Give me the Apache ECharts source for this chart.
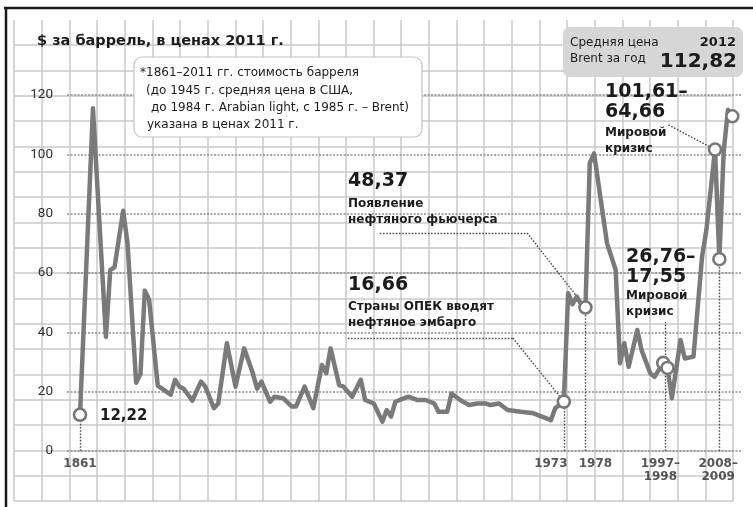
<!DOCTYPE html>
<html><head><meta charset="utf-8">
<script src="https://cdn.jsdelivr.net/npm/echarts@6/dist/echarts.min.js"></script>
<style>html,body{margin:0;padding:0;background:#fff}#c{width:753px;height:507px}</style>
</head><body><div id="c"></div>
<script>
// ---- data ----
const years = [1861,1864,1867,1868,1869,1871,1872,1874,1875,1876,1877,1879,1880,1882,1883,1884,1885,1887,1889,1890,1892,1893,1895,1897,1899,1901,1902,1903,1905,1906,1908,1910,1911,1913,1915,1917,1918,1919,1921,1922,1924,1926,1927,1929,1931,1932,1933,1934,1935,1937,1939,1941,1943,1944,1946,1947,1949,1951,1953,1955,1956,1958,1960,1963,1966,1970,1971,1973,1974,1975,1976,1977,1978,1979,1980,1983,1985,1986,1987,1988,1990,1991,1993,1994,1996,1997,1998,2000,2001,2003,2005,2006,2008,2009,2010,2011,2012];
const prices = [12.22,115.5,38.5,61,62,81,70,23,26,54,51,22,21,19,24,21.7,21,17,23.4,21.7,14.4,16,36.3,21.7,34.6,26.2,21,23.4,16.6,18.3,17.8,15,15,21.7,14.4,29,26.2,34.6,22.2,21.7,18.3,24,17.2,16,9.9,13.8,11.6,16.6,17.2,18.3,17.2,17.2,16,13.2,13.2,19.4,17.2,15.5,16,16,15.5,16,13.8,13.2,12.7,10.4,14.4,16.66,53.2,49.5,52,49.5,48.37,97,100.3,70,61,29.6,36.3,28.4,40.8,34,26.2,25,29.7,28,17.8,37.4,31.2,31.8,65.5,74.5,101.61,64.66,101,115,112.82];
const markerYears = [1861,1973,1978,1996,1997,2008,2009,2012];
const markerValues = [12.22,16.66,48.37,29.7,28,101.61,64.66,112.82];
const tickYears = [1861,1973,1978,1996.5,2008.5];
const tickLabels = ['1861','1973','1978','1997–\n1998','2008–\n2009'];
const yMin = 0, yMax = 120, yStep = 20;
const titleText = '$ за баррель, в ценах 2011 г.';
const noteLines = ['*1861–2011 гг. стоимость барреля','(до 1945 г. средняя цена в США,','до 1984 г. Arabian light, с 1985 г. – Brent)','указана в ценах 2011 г.'];
const boxLines = ['Средняя цена','Brent за год'];
const boxYear = '2012';
const boxValue = '112,82';
const notes = [
  {big:['12,22'], small:[]},
  {big:['16,66'], small:['Страны ОПЕК вводят','нефтяное эмбарго']},
  {big:['48,37'], small:['Появление','нефтяного фьючерса']},
  {big:['26,76–','17,55'], small:['Мировой','кризис']},
  {big:['101,61–','64,66'], small:['Мировой','кризис']}
];

// ---- build ----
const chart = echarts.init(document.getElementById('c'), null, {renderer:'canvas'});
const lineData = years.map((y,i)=>[y,prices[i]]);
const markerData = markerYears.map((y,i)=>[y,markerValues[i]]);
const tickOffsets = [0,-13,10,-5,1];
const tickData = tickYears.map((y,i)=>({value:[y,0], label:{offset:[tickOffsets[i],0]}}));
const dotted = {type:[1.6,1.6], color:'#4a4a4a', width:1.4};
const leaderSegs = [
  [[1861,0],[1861,12.22]],
  [[1973,0],[1973,16.66]],
  [[1978,0],[1978,48.37]],
  [[1996.5,0],[1996.5,43.5]],
  [[2009,0],[2009,64.66]],
  [[2012,112.82],[2012,125.5]],
  [[1923,38.1],[1961.2,38.1]],[[1961.2,38.1],[1973,16.66]],
  [[1930.4,73.5],[1964.5,73.5]],[[1964.5,73.5],[1978,48.37]],
  [[1997.2,109.9],[2008,101.61]]
];
const FB = '"DejaVu Sans", sans-serif';
function txt(t,x,y,font,align){return {type:'text',x:x,y:y,z:30,silent:true,style:{text:t,font:font,fill:'#1b1b1b',textAlign:align||'left',textVerticalAlign:'middle',align:align||'left',verticalAlign:'middle'}};}
const g = [];
g.push({type:'rect',z:20,silent:true,shape:{x:134,y:57,width:288,height:80,r:8},style:{fill:'#fff',stroke:'#c4c4c4',lineWidth:1.2}});
const noteX=[140,146,151,147], noteY=[73,90.5,108,125];
noteLines.forEach((t,i)=>g.push(txt(t,noteX[i],noteY[i],'12px '+FB)));
g.push(txt(titleText,37,41,'bold 14.5px '+FB));
g.push({type:'rect',z:20,silent:true,shape:{x:563,y:27,width:180,height:50,r:7},style:{fill:'#d6d6d6'}});
g.push(txt(boxLines[0],570,43,'12px '+FB));
g.push(txt(boxLines[1],570,58.5,'12px '+FB));
g.push(txt(boxYear,736,43,'bold 13px '+FB,'right'));
g.push(txt(boxValue,737,62,'bold 20px '+FB,'right'));
const notePos = [[100,416,0,0],[348,285,0,22],[348,181.5,0,22.5],[626,257.5,19.5,38.5],[605,92.5,20,40.5]];
notes.forEach((n,i)=>{
  const p = notePos[i];
  n.big.forEach((t,j)=>g.push(txt(t,p[0],p[1]+j*p[2], (i===0?'bold 15px ':'bold 19px ')+FB)));
  n.small.forEach((t,j)=>g.push(txt(t,p[0],p[1]+p[3]+j*15.5,'bold 12px '+FB)));
});
g.push({type:'line',z:40,silent:true,shape:{x1:4,y1:8,x2:753,y2:8},style:{stroke:'#1a1a1a',lineWidth:2.5}});
g.push({type:'line',z:40,silent:true,shape:{x1:6,y1:7,x2:6,y2:507},style:{stroke:'#1a1a1a',lineWidth:2.5}});

const option = {
  animation:false,
  backgroundColor:'#fff',
  grid:[
    {left:14, top:19.9, width:719.16, height:481.3},
    {left:67.04, top:95, width:673.92, height:356}
  ],
  xAxis:[
    {gridIndex:0,type:'value',min:0,max:26,interval:1,axisLine:{show:false},axisTick:{show:false},axisLabel:{show:false},
     splitLine:{show:true,showMinLine:true,showMaxLine:true,lineStyle:{color:'#c8c8c8',width:1.5}},z:0},
    {gridIndex:1,type:'value',min:1858,max:2014,show:false,splitLine:{show:false}}
  ],
  yAxis:[
    {gridIndex:0,type:'value',min:0,max:19,interval:1,axisLine:{show:false},axisTick:{show:false},axisLabel:{show:false},
     splitLine:{show:true,showMinLine:true,showMaxLine:false,lineStyle:{color:'#c8c8c8',width:1.5}},z:0},
    {gridIndex:1,type:'value',min:yMin,max:yMax,interval:yStep,axisLine:{show:false},axisTick:{show:false},
     axisLabel:{margin:14,color:'#2e2e2e',fontSize:13.5,fontFamily:'Roboto, sans-serif'},
     splitLine:{show:true,lineStyle:{type:[2,1.5],color:'#8c8c8c',width:1.5}},z:1}
  ],
  series:[
    {type:'line',name:'price',xAxisIndex:1,yAxisIndex:1,data:lineData,showSymbol:false,symbol:'none',z:5,
     lineStyle:{color:'#7a7a7a',width:4.5,join:'round',cap:'round'},silent:true,
     markLine:{silent:true,symbol:['none','none'],label:{show:false},lineStyle:dotted,z:4,
       data:leaderSegs.map(s=>[{coord:s[0]},{coord:s[1]}])}},
    {type:'scatter',name:'markers',xAxisIndex:1,yAxisIndex:1,data:markerData,symbol:'circle',symbolSize:12,z:8,silent:true,
     itemStyle:{color:'#fff',borderColor:'#777',borderWidth:2.6,opacity:1}},
    {type:'scatter',name:'ticks',xAxisIndex:1,yAxisIndex:1,data:tickData,symbolSize:0,z:8,silent:true,
     label:{show:true,position:'bottom',distance:6,formatter:p=>tickLabels[p.dataIndex],
       fontFamily:FB,fontWeight:'bold',fontSize:12,lineHeight:13.5,color:'#2a2a2a',align:'center'}}
  ],
  graphic:g
};
chart.setOption(option);
</script></body></html>
